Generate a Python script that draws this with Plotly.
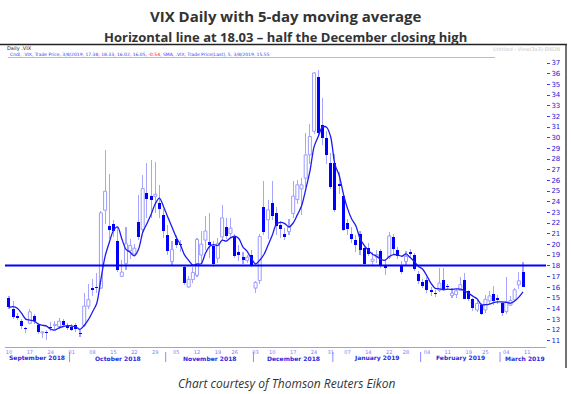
import plotly.graph_objects as go
import pandas as pd

# ---------------- data ----------------
dates = [
    "2018-09-10","2018-09-11","2018-09-12","2018-09-13","2018-09-14",
    "2018-09-17","2018-09-18","2018-09-19","2018-09-20","2018-09-21",
    "2018-09-24","2018-09-25","2018-09-26","2018-09-27","2018-09-28",
    "2018-10-01","2018-10-02","2018-10-03","2018-10-04","2018-10-05",
    "2018-10-08","2018-10-09","2018-10-10","2018-10-11","2018-10-12",
    "2018-10-15","2018-10-16","2018-10-17","2018-10-18","2018-10-19",
    "2018-10-22","2018-10-23","2018-10-24","2018-10-25","2018-10-26",
    "2018-10-29","2018-10-30","2018-10-31",
    "2018-11-01","2018-11-02","2018-11-05","2018-11-06","2018-11-07",
    "2018-11-08","2018-11-09","2018-11-12","2018-11-13","2018-11-14",
    "2018-11-15","2018-11-16","2018-11-19","2018-11-20","2018-11-21",
    "2018-11-23","2018-11-26","2018-11-27","2018-11-28","2018-11-29",
    "2018-11-30",
    "2018-12-03","2018-12-04","2018-12-06","2018-12-07","2018-12-10",
    "2018-12-11","2018-12-12","2018-12-13","2018-12-14","2018-12-17",
    "2018-12-18","2018-12-19","2018-12-20","2018-12-21","2018-12-24",
    "2018-12-26","2018-12-27","2018-12-28","2018-12-31",
    "2019-01-02","2019-01-03","2019-01-04","2019-01-07","2019-01-08",
    "2019-01-09","2019-01-10","2019-01-11","2019-01-14","2019-01-15",
    "2019-01-16","2019-01-17","2019-01-18","2019-01-22","2019-01-23",
    "2019-01-24","2019-01-25","2019-01-28","2019-01-29","2019-01-30",
    "2019-01-31",
    "2019-02-01","2019-02-04","2019-02-05","2019-02-06","2019-02-07",
    "2019-02-08","2019-02-11","2019-02-12","2019-02-13","2019-02-14",
    "2019-02-15","2019-02-19","2019-02-20","2019-02-21","2019-02-22",
    "2019-02-25","2019-02-26","2019-02-27","2019-02-28",
    "2019-03-01","2019-03-04","2019-03-05","2019-03-06","2019-03-07",
    "2019-03-08",
]

opens = [
    14.95,13.90,13.20,12.80,12.10,12.60,13.30,12.45,11.70,11.80,
    12.30,12.40,12.30,12.85,12.35,12.30,12.40,11.70,12.40,14.20,
    15.90,16.00,15.90,23.20,21.70,21.90,20.30,17.00,18.20,19.40,
    19.10,22.10,21.40,24.80,24.50,24.50,23.90,22.75,
    20.90,18.40,20.50,20.00,17.90,16.00,16.70,17.10,19.00,20.40,
    20.25,19.85,18.70,20.70,21.60,21.00,20.70,19.30,18.85,18.50,
    19.00,
    15.90,16.60,23.50,22.30,23.90,22.90,21.80,21.00,21.20,22.90,
    24.20,25.20,26.20,28.40,30.60,35.70,31.20,30.00,27.60,
    27.60,25.70,24.50,22.00,21.00,20.40,21.00,19.70,19.70,18.40,
    18.80,19.40,18.10,18.80,20.70,19.50,18.10,18.40,19.30,19.00,
    17.20,
    16.50,16.70,15.70,15.40,15.70,16.70,16.00,15.20,15.30,15.70,
    16.70,15.60,14.85,13.85,14.30,13.85,14.70,15.35,15.00,
    14.50,13.70,14.30,14.80,16.20,17.38,
]
highs = [
    15.20,14.70,13.60,13.00,12.30,13.90,13.50,12.60,11.90,12.00,
    12.75,12.80,13.10,13.00,12.60,12.50,12.60,12.00,15.40,16.30,
    16.80,17.30,23.10,28.84,26.60,22.30,21.60,18.50,21.60,20.50,
    20.00,24.60,26.50,27.60,27.90,27.70,25.60,23.30,
    21.80,20.30,20.90,20.40,18.10,17.00,17.90,20.60,21.30,22.70,
    22.90,20.30,20.60,23.70,22.50,22.50,21.00,19.90,19.30,19.00,
    19.50,
    16.60,21.00,25.94,24.20,25.90,23.50,22.20,21.50,22.40,25.90,
    26.00,26.20,30.40,31.30,36.20,36.30,33.70,30.60,28.60,
    28.50,26.80,24.80,22.40,21.60,20.90,21.30,19.80,20.10,19.30,
    19.50,19.60,18.50,21.20,21.00,19.80,18.40,19.40,19.60,19.20,
    17.50,
    16.80,16.90,16.00,15.70,17.75,17.75,16.30,15.90,15.80,16.90,
    17.30,15.70,15.00,14.90,14.50,15.30,15.60,16.10,15.30,
    14.60,16.90,15.20,15.90,17.40,18.33,
]
lows = [
    13.90,13.05,12.90,12.10,11.70,12.50,12.50,11.60,11.20,11.05,
    11.90,12.00,12.10,12.30,12.00,11.90,11.80,11.30,12.30,13.90,
    15.20,15.40,15.80,21.90,20.50,20.70,17.40,16.90,17.60,18.60,
    18.90,20.40,21.20,22.50,22.50,22.90,22.50,20.60,
    19.00,18.00,19.70,19.30,16.20,15.90,16.40,16.90,18.20,19.50,
    18.70,17.90,18.30,20.30,20.50,20.60,18.70,18.40,18.20,18.30,
    17.90,
    15.40,16.30,20.90,20.50,22.30,20.90,20.60,20.40,20.90,22.50,
    23.80,22.80,25.40,27.50,30.30,30.10,29.30,27.50,25.20,
    23.00,24.70,21.30,20.90,20.10,19.30,19.00,18.10,18.90,18.00,
    18.30,17.80,17.10,18.60,19.00,18.60,17.20,18.00,18.70,17.50,
    16.30,
    15.90,15.40,15.20,15.10,15.50,15.60,15.70,15.00,15.00,15.60,
    14.90,14.70,13.80,13.70,13.40,13.60,14.40,14.30,14.40,
    13.30,13.50,14.20,14.60,15.80,16.02,
]
closes = [
    14.16,13.22,13.14,12.37,12.07,13.68,12.79,11.75,11.80,11.68,
    12.20,12.42,12.80,12.41,12.12,12.00,12.05,11.61,14.22,14.82,
    15.69,15.95,22.96,24.98,21.31,21.30,17.62,17.40,20.06,19.89,
    19.64,20.71,25.23,24.22,24.16,24.70,23.35,21.23,
    19.34,19.51,19.96,19.91,16.36,16.72,17.36,20.45,20.02,21.25,
    19.98,18.14,20.10,22.48,20.80,21.52,18.90,19.02,18.49,18.79,
    18.07,
    16.44,20.74,21.19,23.23,22.64,21.76,21.46,20.65,21.63,24.52,
    25.58,25.58,28.38,30.11,36.07,30.41,29.96,28.34,25.42,
    23.22,25.45,21.38,21.40,20.47,19.98,19.50,18.19,19.07,18.60,
    19.04,18.06,17.80,20.80,19.52,18.89,17.42,18.87,19.13,17.66,
    16.57,
    16.14,15.73,15.57,15.38,16.37,15.72,15.97,15.43,15.65,16.22,
    14.91,14.88,14.02,14.46,13.51,14.85,15.17,14.70,14.78,
    13.57,14.63,14.74,15.74,16.59,16.05,
]
# closes of the four sessions before the window (needed for the first SMA points)
prior_closes = [12.88, 13.91, 14.65, 14.88]
sma_window = 5
ref_level = 18.03

# week tick labels (trading-day position, label)
week_tick_pos = [0, 5, 10, 15, 20, 25, 30, 35, 40, 45, 50, 54, 59, 63, 68, 73, 77,
                 81, 86, 91, 95, 100, 105, 110, 114, 119, 124, 129]
week_tick_text = ["10", "17", "24", "01", "08", "15", "22", "29", "05", "12", "19", "26",
                  "03", "10", "17", "24", "31", "07", "14", "22", "28", "04", "11", "19",
                  "25", "04", "11", "18"]
month_names = ["September 2018", "October 2018", "November 2018", "December 2018",
               "January 2019", "February 2019", "March 2019"]
month_bounds = [-0.95, 14.5, 37.5, 58.5, 77.5, 98.5, 117.5, 129.5]

legend_text = ("Cndl, .VIX, Trade Price, 3/8/2019, 17.38, 18.33, 16.02, 16.05, "
               "<span style='color:#ff0000'>-0.54</span>, SMA, .VIX, Trade Price(Last), 5, 3/8/2019, 15.55")

# ---------------- derived ----------------
idx = list(range(len(closes)))
sma = pd.Series(prior_closes + closes).rolling(sma_window).mean().tolist()[len(prior_closes):]

up = [i for i in idx if closes[i] >= opens[i]]
dn = [i for i in idx if closes[i] < opens[i]]

# pixel helpers for paper coordinates
L, R, T, B = 5, 546, 58, 347
def px(X):
    return (X - L) / (R - L)
def py(Y):
    return (B - Y) / (B - T)

fig = go.Figure()

# wicks
fig.add_trace(go.Bar(
    x=idx, y=[highs[i] - lows[i] for i in idx], base=lows, width=0.26,
    marker=dict(color="#a6a6ff", line=dict(width=0)), hoverinfo="skip", showlegend=False))
# hollow (up) bodies
fig.add_trace(go.Bar(
    x=up, y=[max(closes[i] - opens[i], 0.1) for i in up], base=[opens[i] for i in up], width=0.72,
    marker=dict(color="#ffffff", line=dict(color="#9c9cff", width=1)), showlegend=False))
# filled (down) bodies
fig.add_trace(go.Bar(
    x=dn, y=[max(opens[i] - closes[i], 0.1) for i in dn], base=[closes[i] for i in dn], width=0.72,
    marker=dict(color="#0000ff", line=dict(width=0)), showlegend=False))
# 5-day SMA
fig.add_trace(go.Scatter(
    x=idx, y=sma, mode="lines", line=dict(color="#1c1cf0", width=1.3, shape="spline", smoothing=0.8),
    showlegend=False))

shapes = []
# horizontal reference line
shapes.append(dict(type="line", xref="paper", yref="y", x0=0, x1=1, y0=ref_level, y1=ref_level,
                   line=dict(color="#0000ff", width=2)))
# month separators
for b in month_bounds[1:-1]:
    shapes.append(dict(type="line", xref="x", yref="paper", x0=b, x1=b, y0=py(352), y1=py(362),
                       line=dict(color="#8a8aff", width=1)))
# chart frame lines
shapes.append(dict(type="line", xref="paper", yref="paper", x0=px(0), x1=px(567), y0=py(44.5), y1=py(44.5),
                   line=dict(color="#222222", width=1.5)))
shapes.append(dict(type="line", xref="paper", yref="paper", x0=px(566), x1=px(566), y0=py(44.5), y1=py(368),
                   line=dict(color="#444444", width=1.5)))
shapes.append(dict(type="line", xref="paper", yref="paper", x0=px(8), x1=px(495), y0=py(57.5), y1=py(57.5),
                   line=dict(color="#b4b4ff", width=1)))

annotations = []
annotations.append(dict(text="<b>VIX Daily with 5-day moving average</b>", xref="paper", yref="paper",
                        x=px(285.5), y=py(16), xanchor="center", yanchor="middle", showarrow=False,
                        font=dict(family="Open Sans", size=15, color="#333333")))
annotations.append(dict(text="<b>Horizontal line at 18.03 \u2013 half the December closing high</b>",
                        xref="paper", yref="paper", x=px(285.5), y=py(37), xanchor="center",
                        yanchor="middle", showarrow=False,
                        font=dict(family="Open Sans", size=13, color="#333333")))
annotations.append(dict(text="<i>Chart courtesy of Thomson Reuters Eikon</i>", xref="paper", yref="paper",
                        x=px(286), y=py(383), xanchor="center", yanchor="middle", showarrow=False,
                        font=dict(family="Open Sans", size=12, color="#333333")))
annotations.append(dict(text="Daily .VIX", xref="paper", yref="paper", x=px(5), y=py(48.5),
                        xanchor="left", yanchor="middle", showarrow=False,
                        font=dict(family="DejaVu Sans", size=5, color="#222222")))
annotations.append(dict(text=legend_text, xref="paper", yref="paper", x=px(8), y=py(54),
                        xanchor="left", yanchor="middle", showarrow=False,
                        font=dict(family="DejaVu Sans", size=4.5, color="#3a3aff")))
annotations.append(dict(text="Untitled - View(3x3)-EIKON", xref="paper", yref="paper", x=px(562), y=py(49),
                        xanchor="right", yanchor="middle", showarrow=False,
                        font=dict(family="DejaVu Sans", size=5, color="#c8c8c8")))
for k, name in enumerate(month_names):
    c = (month_bounds[k] + month_bounds[k + 1]) / 2
    annotations.append(dict(text="<b>%s</b>" % name, xref="x", yref="paper", x=c, y=py(358),
                            xanchor="center", yanchor="middle", showarrow=False,
                            font=dict(family="DejaVu Sans", size=6, color="#2a2ae0")))

fig.update_layout(
    width=571, height=394,
    margin=dict(l=L, r=571 - R, t=T, b=394 - B, pad=0),
    paper_bgcolor="white", plot_bgcolor="white",
    barmode="overlay", bargap=0,
    showlegend=False,
    shapes=shapes, annotations=annotations,
    xaxis=dict(range=[-0.95, 128.5], showgrid=False, zeroline=False,
               showline=True, linecolor="#9c9cff", linewidth=1,
               tickmode="array", tickvals=week_tick_pos, ticktext=week_tick_text,
               tickfont=dict(family="DejaVu Sans", size=5, color="#7a7aff"),
               ticks="", ticklen=0, fixedrange=True),
    yaxis=dict(range=[10.38, 37.47], side="right", showgrid=False, zeroline=False, showline=False,
               tickmode="linear", tick0=11, dtick=1,
               ticks="outside", ticklen=3, tickcolor="#3a3aff", tickwidth=1,
               tickfont=dict(family="DejaVu Sans", size=7, color="#2020d0"),
               fixedrange=True),
)

fig.write_html("out.html", config={"displayModeBar": False, "staticPlot": True},
               post_script="document.body.style.margin='0';document.body.style.overflow='hidden';")
